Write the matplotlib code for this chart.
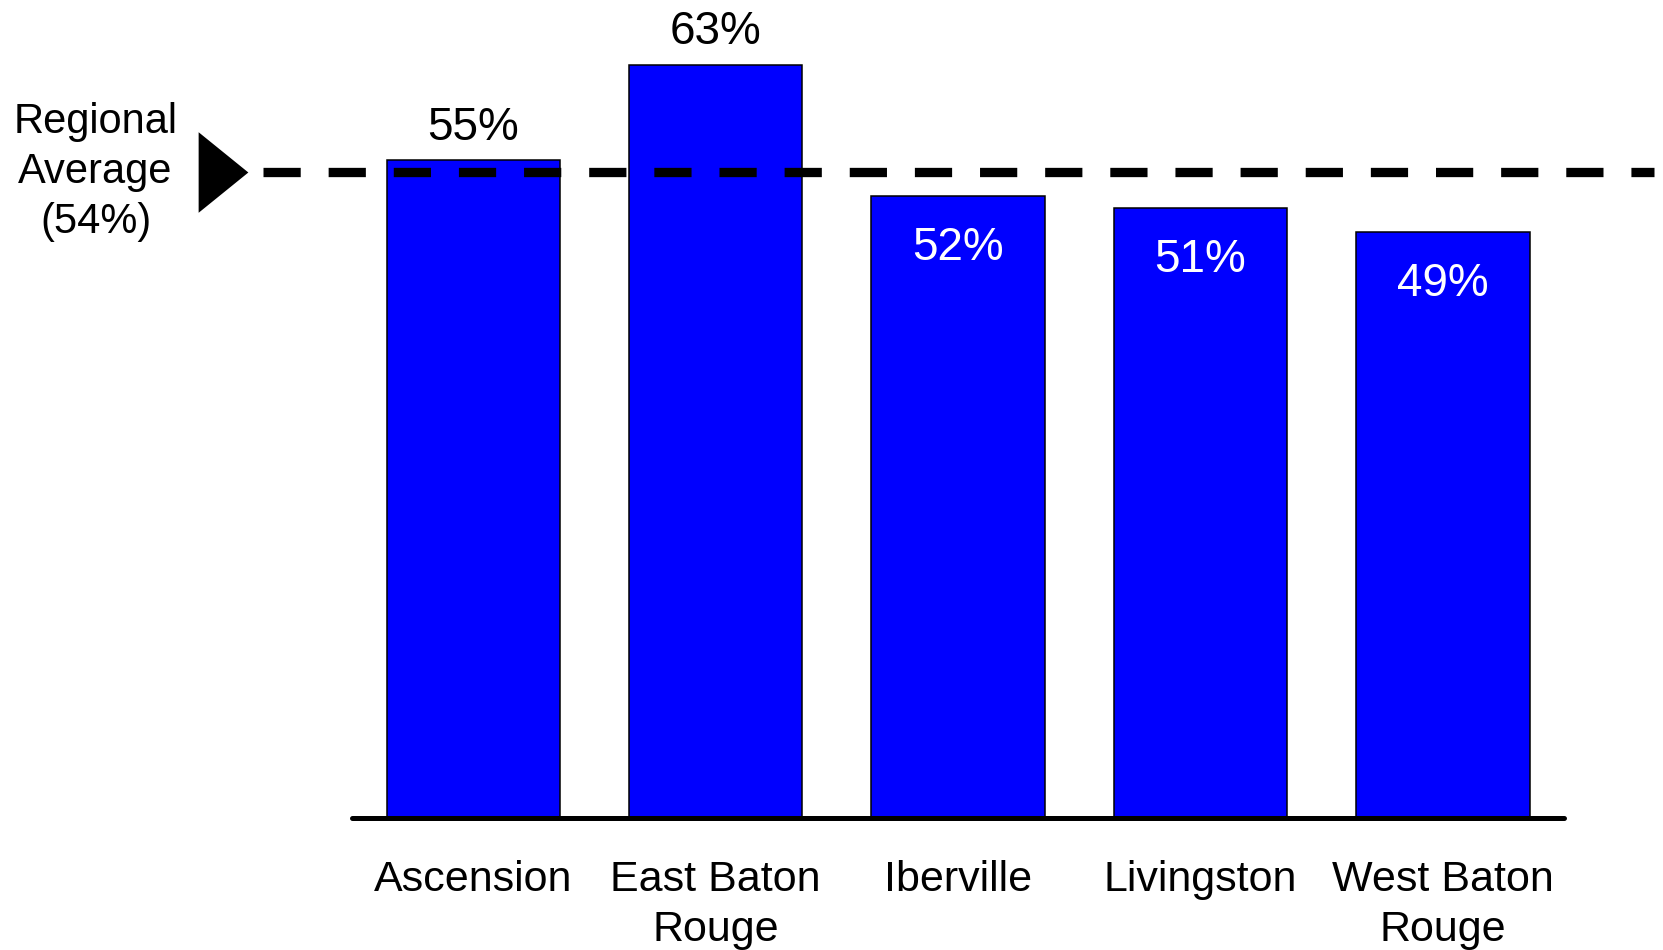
import matplotlib
matplotlib.use("Agg")
import matplotlib.pyplot as plt
import matplotlib.transforms as mtransforms

plt.rcParams["font.family"] = ["Liberation Sans", "DejaVu Sans"]

parishes = ["Ascension", "East Baton\nRouge", "Iberville", "Livingston", "West Baton\nRouge"]
shares = [55, 63, 52, 51, 49]
regional_avg = 54
avg_label = "Regional\nAverage\n(54%)"

fig = plt.figure(figsize=(16.63, 9.5), dpi=100)
ax = fig.add_axes([0.2117, 0.139, 0.7288, 0.861])

x = range(len(parishes))
ax.bar(x, shares, width=0.715, color="#0000FF", edgecolor="black", linewidth=1.1, zorder=2)

ax.set_xlim(-0.5, len(parishes) - 0.5)
ax.set_ylim(0, 68.4)

for s in ("top", "right", "left", "bottom"):
    ax.spines[s].set_visible(False)
ax.set_yticks([])
ax.set_xticks(list(x))
ax.set_xticklabels(parishes, fontsize=31, linespacing=1.32)
ax.tick_params(axis="x", length=0, pad=30)

# baseline across the whole axes
ax.plot([0, 1], [0, 0], transform=ax.transAxes, color="black",
        lw=3.6, solid_capstyle="round", clip_on=False, zorder=3)

# value labels: above the bar when over the average, inside in white otherwise
for i, v in enumerate(shares):
    if v > regional_avg:
        ax.annotate(f"{v}%", (i, v), xytext=(0, 14.5), textcoords="offset points",
                    ha="center", va="baseline", fontsize=33, color="black")
    else:
        ax.annotate(f"{v}%", (i, v), xytext=(0, -46), textcoords="offset points",
                    ha="center", va="baseline", fontsize=33, color="white", zorder=4)

# regional average line and marker
blend = mtransforms.blended_transform_factory(ax.transAxes, ax.transData)
ax.plot([-0.0734, 1.074], [regional_avg, regional_avg], transform=blend,
        color="black", lw=6.7, dashes=(4, 3), dash_capstyle="butt",
        clip_on=False, zorder=5)
tri = [(-0.5, -0.81), (0.5, 0), (-0.5, 0.81), (-0.5, -0.81)]
ax.plot([-0.1064], [regional_avg], transform=blend, marker=tri, markersize=58,
        color="black", markeredgewidth=0, clip_on=False, zorder=5)
ax.text(-0.2116, regional_avg, avg_label, transform=blend, ha="center", va="center",
        multialignment="center", fontsize=30, linespacing=1.32)

fig.savefig("out.png", dpi=100, facecolor="white")
